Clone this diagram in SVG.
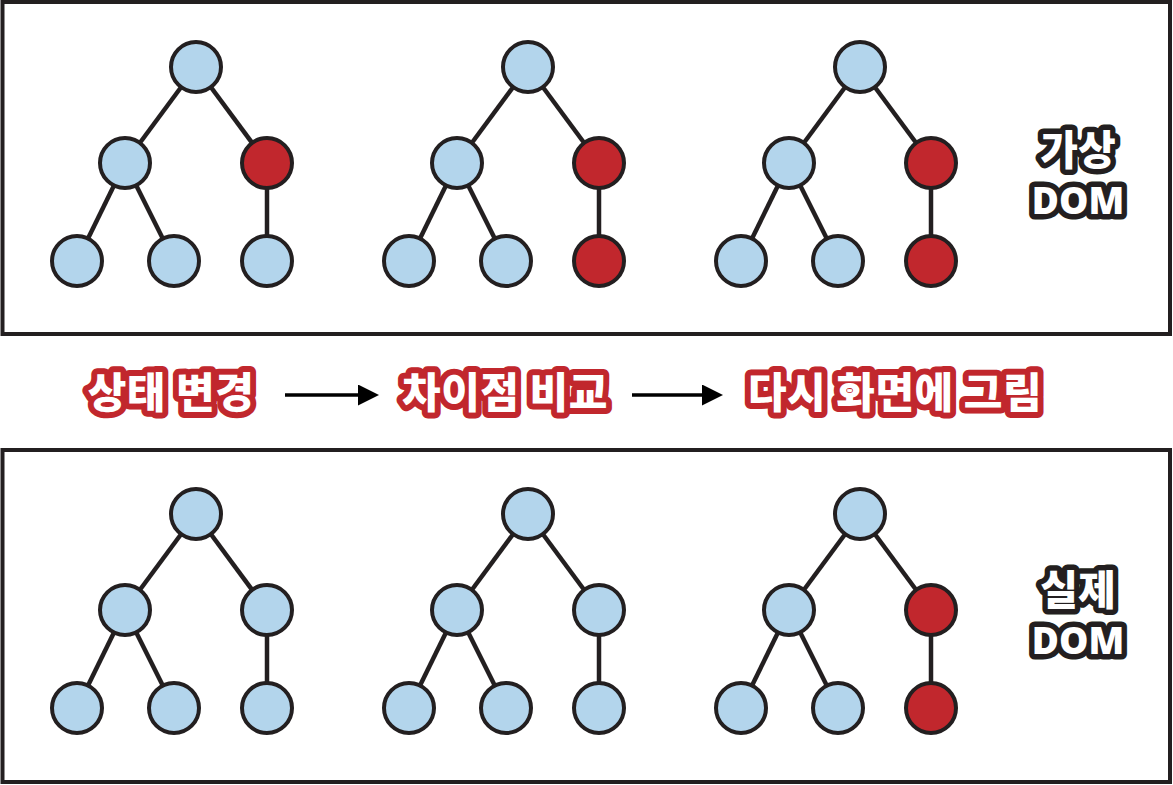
<svg xmlns="http://www.w3.org/2000/svg" width="1173" height="785" viewBox="0 0 1173 785">
<defs>
<style>
.frame{fill:#fff;stroke:#231f20;stroke-width:4}
.edge{stroke:#231f20;stroke-width:4.5;fill:none}
.n{stroke:#231f20;stroke-width:4;fill:#b3d5ec}
.r{fill:#c1272d}
.step{font-family:"Noto Sans CJK KR","Noto Sans",sans-serif;font-weight:900;font-size:42px;letter-spacing:0.5px;fill:#fff;stroke:#c1272d;stroke-width:12;stroke-linejoin:round;paint-order:stroke;text-anchor:middle}
.lbl{font-family:"Noto Sans CJK KR","Noto Sans",sans-serif;font-weight:900;font-size:41px;fill:#fff;stroke:#231f20;stroke-width:11;stroke-linejoin:round;paint-order:stroke;text-anchor:middle}
.dom{font-family:"Noto Sans","Noto Sans CJK KR",sans-serif;font-weight:900;font-size:37px}
.arrow{stroke:#000;stroke-width:3.5;fill:none;marker-end:url(#ah)}
</style>
<marker id="ah" viewBox="0 0 10 10" refX="0" refY="5" markerWidth="6.5" markerHeight="6" orient="auto" markerUnits="strokeWidth">
<path d="M0,0 L10,5 L0,10 z" fill="#000"/>
</marker>
<g id="tree">
<g class="edge">
<line x1="0" y1="0" x2="-71" y2="96"/>
<line x1="0" y1="0" x2="71" y2="96"/>
<line x1="-71" y1="96" x2="-119" y2="194"/>
<line x1="-71" y1="96" x2="-22" y2="194"/>
<line x1="71" y1="96" x2="71" y2="194"/>
</g>
</g>
</defs>
<rect width="1173" height="785" fill="#fff"/>
<rect id="virtual-frame" class="frame" x="2.5" y="2" width="1167.5" height="332"/>
<rect id="real-frame" class="frame" x="2.5" y="450" width="1167.5" height="332"/>

<g id="connectors">
<use href="#tree" x="196" y="67"/>
<use href="#tree" x="528" y="67"/>
<use href="#tree" x="860" y="67"/>
<use href="#tree" x="196" y="514"/>
<use href="#tree" x="528" y="514"/>
<use href="#tree" x="860" y="514"/>
<line class="arrow" x1="285" y1="395" x2="358" y2="395"/>
<line class="arrow" x1="632" y1="395" x2="702" y2="395"/>
</g>

<g id="vdom-tree1">
<circle class="n" cx="196" cy="67" r="25"/>
<circle class="n" cx="125" cy="163" r="25"/>
<circle class="n r" cx="267" cy="163" r="25"/>
<circle class="n" cx="77" cy="261" r="25"/>
<circle class="n" cx="174" cy="261" r="25"/>
<circle class="n" cx="267" cy="261" r="25"/>
</g>
<g id="vdom-tree2">
<circle class="n" cx="528" cy="67" r="25"/>
<circle class="n" cx="457" cy="163" r="25"/>
<circle class="n r" cx="599" cy="163" r="25"/>
<circle class="n" cx="409" cy="261" r="25"/>
<circle class="n" cx="506" cy="261" r="25"/>
<circle class="n r" cx="599" cy="261" r="25"/>
</g>
<g id="vdom-tree3">
<circle class="n" cx="860" cy="67" r="25"/>
<circle class="n" cx="789" cy="163" r="25"/>
<circle class="n r" cx="931" cy="163" r="25"/>
<circle class="n" cx="741" cy="261" r="25"/>
<circle class="n" cx="838" cy="261" r="25"/>
<circle class="n r" cx="931" cy="261" r="25"/>
</g>
<g id="rdom-tree1">
<circle class="n" cx="196" cy="514" r="25"/>
<circle class="n" cx="125" cy="610" r="25"/>
<circle class="n" cx="267" cy="610" r="25"/>
<circle class="n" cx="77" cy="708" r="25"/>
<circle class="n" cx="174" cy="708" r="25"/>
<circle class="n" cx="267" cy="708" r="25"/>
</g>
<g id="rdom-tree2">
<circle class="n" cx="528" cy="514" r="25"/>
<circle class="n" cx="457" cy="610" r="25"/>
<circle class="n" cx="599" cy="610" r="25"/>
<circle class="n" cx="409" cy="708" r="25"/>
<circle class="n" cx="506" cy="708" r="25"/>
<circle class="n" cx="599" cy="708" r="25"/>
</g>
<g id="rdom-tree3">
<circle class="n" cx="860" cy="514" r="25"/>
<circle class="n" cx="789" cy="610" r="25"/>
<circle class="n r" cx="931" cy="610" r="25"/>
<circle class="n" cx="741" cy="708" r="25"/>
<circle class="n" cx="838" cy="708" r="25"/>
<circle class="n r" cx="931" cy="708" r="25"/>
</g>

<g id="step-change"><text class="step" x="171" y="408">상태 변경</text></g>
<g id="step-diff"><text class="step" x="505" y="408">차이점 비교</text></g>
<g id="step-render"><text class="step" x="895" y="408">다시 화면에 그림</text></g>

<g id="label-virtual">
<text class="lbl" x="1078" y="165">가상</text>
<text class="lbl dom" x="1078" y="214">DOM</text>
</g>
<g id="label-real">
<text class="lbl" x="1078" y="605">실제</text>
<text class="lbl dom" x="1078" y="654">DOM</text>
</g>
</svg>
